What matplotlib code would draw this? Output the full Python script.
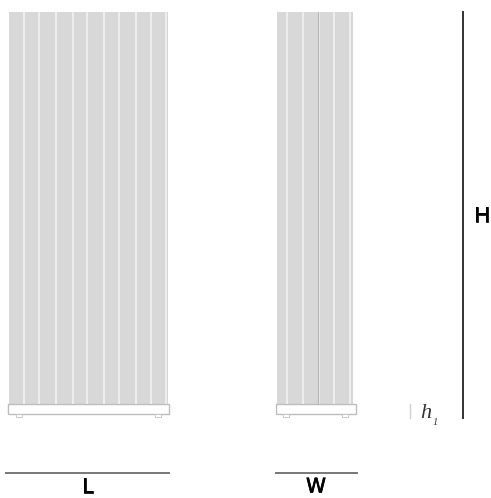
import matplotlib
matplotlib.use("Agg")
import matplotlib.pyplot as plt
from matplotlib.patches import Rectangle
import matplotlib.patheffects as pe

W, H = 491, 498

# front view (L) - x of white slits between fins
front_span = (9.5, 168)
front_slits = [24.5, 39, 56, 73.5, 87.5, 104.5, 119.5, 136, 151, 166.5]
front_base = (8.5, 169.5)
front_feet = [16, 155]

# side view (W)
side_span = (277.5, 353)
side_slits = [286.7, 303, 319, 334, 350]
side_dark = [318]
side_base = (275.7, 356)
side_feet = [283, 342]

fin_top, fin_bottom = 11.5, 403.5
base_top, base_bottom = 404, 414

dims = [("L", 5, 170, 472.5, 87.5, 487), ("W", 275.5, 358, 472.5, 316, 487)]

fig = plt.figure(figsize=(W / 100, H / 100), dpi=100)
ax = fig.add_axes([0, 0, 1, 1])
ax.set_xlim(0, W)
ax.set_ylim(H, 0)
ax.axis("off")

fin_col = "#d8d8d8"
edge_col = "#bdbdbd"
thick = [pe.withStroke(linewidth=0.5, foreground="black")]


def radiator(span, slits, base, feet):
    ax.add_patch(Rectangle((span[0], fin_top), span[1] - span[0], fin_bottom - fin_top,
                           fc=fin_col, ec="none"))
    for x in slits:
        ax.plot([x, x], [fin_top, fin_bottom], color="#f4f4f4", lw=1.1, solid_capstyle="butt")
    ax.add_patch(Rectangle((base[0], base_top), base[1] - base[0], base_bottom - base_top,
                           fc="white", ec=edge_col, lw=1.0))
    for x in feet:
        ax.add_patch(Rectangle((x, base_bottom), 6, 3, fc="white", ec="#c8c8c8", lw=0.7))


radiator(front_span, front_slits, front_base, front_feet)
radiator(side_span, side_slits, side_base, side_feet)
for x in side_dark:
    ax.plot([x, x], [fin_top, fin_bottom], color="#b4b4b4", lw=0.8)

# dimension lines
for name, x0, x1, y, tx, ty in dims:
    ax.plot([x0, x1], [y, y], color="#777777", lw=1.4, solid_capstyle="butt")
    ax.text(tx, ty, name, fontsize=14.5, family="DejaVu Sans", ha="center", va="center",
            color="black", path_effects=thick)

ax.plot([463, 463], [11, 419], color="#222222", lw=1.3, solid_capstyle="butt")
ax.text(482, 216, "H", fontsize=14.5, family="DejaVu Sans", ha="center", va="center",
        color="black", path_effects=thick)

ax.plot([410, 410], [404, 418], color="#d0d0d0", lw=1.0)
ax.text(420, 418, "h", fontsize=16, family="Liberation Serif", style="italic", ha="left", va="baseline", color="#333333")
ax.text(432.5, 425, "1", fontsize=7.5, family="Liberation Serif", style="italic", ha="left", va="baseline", color="#333333")

fig.savefig("out.png", dpi=100)
